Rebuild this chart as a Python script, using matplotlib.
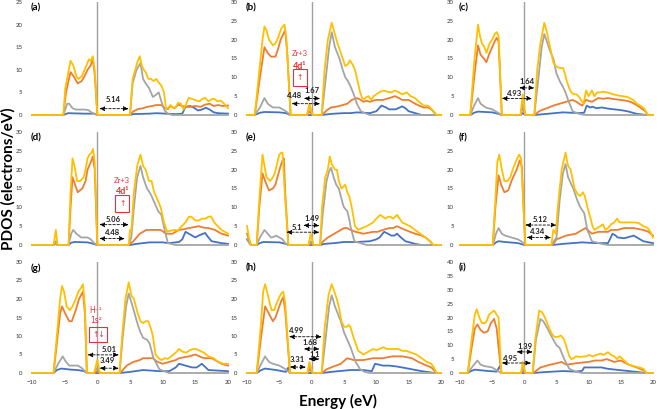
import matplotlib
matplotlib.use('Agg')
import matplotlib.pyplot as plt

plt.rcParams['font.family'] = ['Lato', 'DejaVu Sans']

# === PDOS curves, (energy eV, states/eV) ===
a_total = [(-10,0),(-5.2,0),(-4.9,6),(-4.1,12),(-3.7,11),(-3.2,8.5),(-2.9,8),(-2.4,8.5),(-1.8,10.5),(-1.3,12.3),(-1.0,12),(-0.7,13),(-0.4,10),(0,0),(5.0,0),(5.4,8),(5.8,10),(6.2,12),(6.5,13),(6.8,11),(7.1,10),(7.4,9.5),(7.8,8),(8.2,8),(8.6,7.5),(9.0,8),(9.5,7),(9.8,6.5),(10.2,5),(10.5,1.5),(10.8,1.5),(11.2,2.2),(11.6,1.5),(12.0,1.8),(12.4,2.7),(12.8,2.5),(13.2,1.2),(13.6,2.5),(14.0,3.8),(14.6,3.5),(15.2,3.2),(15.6,3.0),(16.0,3.5),(16.5,3.8),(17.0,3.0),(17.5,3.5),(17.9,3.6),(18.4,3.0),(18.9,3.2),(19.4,2.5),(20,1.5)]
a_gray = [(-10,0),(-5.2,0),(-4.6,2.5),(-4.3,2.5),(-3.8,1.5),(-3.3,1.2),(-2,1.2),(-1.4,1.1),(-0.8,0.5),(0,0),(5.0,0),(5.4,7),(6.0,10),(6.6,11.5),(7.0,8),(7.4,7),(7.9,6),(8.5,4),(9.0,4.5),(9.4,5),(9.8,3),(10.3,1),(10.8,0.3),(11.5,0),(20,0)]
a_orange = [(-10,0),(-5.2,0),(-4.8,5),(-4.1,9.5),(-3.6,8.5),(-3.0,7),(-2.4,7.5),(-2.0,8.5),(-1.5,10),(-1.0,11),(-0.7,12.5),(-0.4,9),(0,0),(5.0,0),(5.5,0.8),(6.2,1.3),(7.0,1.5),(7.6,1.8),(8.4,2.0),(9.0,2.2),(9.8,2.2),(10.3,1.5),(10.8,1.3),(11.2,2.0),(11.8,1.5),(12.4,2.3),(13.0,2.0),(13.6,1.8),(14.2,1.8),(15,2.0),(15.8,1.8),(16.5,2.3),(17.2,2.5),(17.8,2.0),(18.5,2.2),(19.2,2.0),(20,2.1)]
a_blue = [(-10,0),(-5.2,0),(-4.5,0.4),(-2,0.3),(-0.5,0.3),(0,0),(5,0),(5.5,0.2),(8,0.3),(9,0.4),(10.5,0.3),(12,0.2),(13.0,0.3),(13.5,1.8),(14.2,2.0),(14.8,1.6),(15.4,1.0),(16.0,1.2),(16.6,1.6),(17.2,1.2),(17.8,0.6),(18.5,0.4),(20,0.3)]

b_total = [(-10,0),(-8.8,0),(-8.2,10),(-7.6,20),(-7.3,23.5),(-7.0,22.5),(-6.6,20),(-6.0,18.5),(-5.6,19),(-5.2,20.5),(-4.7,23),(-4.2,24),(-3.9,20),(-3.25,0),(-0.7,0),(-0.35,3),(0.15,0),(1.55,0),(2.0,12),(2.5,20),(3.1,24.5),(3.5,22),(4.0,19),(4.4,17),(4.8,15),(5.2,13),(5.6,13.5),(5.9,14.5),(6.3,13.5),(6.7,12),(7.1,9),(7.5,6),(7.8,4.5),(8.1,4.2),(8.5,4.8),(8.8,5),(9.2,4),(9.6,5),(10,5.5),(10.6,6.2),(11.1,6.5),(11.7,6.2),(12.3,6),(12.9,6.5),(13.5,6),(14.0,5.5),(14.7,6.0),(15.3,5),(16,4.5),(16.6,3.5),(17.3,2.5),(18,2.5),(18.6,1.5),(19.3,0),(20,0)]
b_gray = [(-10,0),(-8.8,0),(-8.0,2),(-7.3,4.5),(-6.8,3),(-6.0,2),(-5.0,2),(-4.5,1.5),(-4.0,1),(-3.3,0),(-0.7,0),(-0.35,2.5),(0.15,0),(1.55,0),(2.2,10),(2.7,18),(3.1,22),(3.6,18),(4.3,15),(4.8,12),(5.2,10),(5.6,9),(5.9,8),(6.4,6),(7.0,3),(7.6,1),(8.2,0.5),(9,0),(20,0)]
b_orange = [(-10,0),(-8.8,0),(-8.0,10),(-7.3,18),(-6.8,16.5),(-6.3,15.5),(-5.6,15.5),(-5.2,17.5),(-4.8,20),(-4.1,22.5),(-3.8,17),(-3.25,0),(-0.7,0),(-0.35,1),(0.15,0),(1.6,0),(2.3,1.2),(3,2),(3.8,2.2),(4.5,2.5),(5.5,3),(6.2,4),(7,4.5),(7.6,4),(8.0,3.5),(8.5,3.8),(9,3.5),(9.5,3.8),(10,4),(11,4),(12,4.5),(12.9,5),(13.5,4.5),(14,4),(15,4),(15.5,3.5),(16,3),(16.6,2.5),(17.3,2),(18,2),(18.5,1.5),(19.3,0),(20,0)]
b_blue = [(-10,0),(-8.8,0),(-8.0,0.6),(-7.3,0.8),(-5,0.7),(-4,0.5),(-3.3,0),(1.6,0),(3,0.3),(5,0.5),(6,0.5),(7,0.7),(8,0.6),(9,0.5),(10,1.0),(10.8,2.5),(11.5,2),(12,1.5),(13,1.5),(14,2.3),(14.5,1.8),(15,1),(16,0.5),(17,0),(20,0)]

c_total = [(-10,0),(-8.4,0),(-7.8,14),(-7.2,24),(-6.9,21),(-6.6,19),(-6.2,18),(-5.9,16.5),(-5.4,19),(-5.0,20),(-4.6,21.5),(-4.3,22),(-4.0,21),(-3.5,0),(-0.6,0),(-0.25,5.5),(0.15,0),(1.55,0),(2.0,12),(2.5,19),(3.1,24.5),(3.5,22),(4.0,18),(4.5,14),(4.9,13),(5.4,12.5),(6.0,12.5),(6.3,11),(6.6,9),(7.0,7),(7.3,6),(7.7,5.5),(8.1,5.5),(8.5,4.8),(8.8,4),(9.2,3),(9.6,6.5),(10.0,5),(10.5,6.5),(10.9,5),(11.3,6),(11.7,6),(12.3,6.2),(12.8,6),(13.3,5.8),(13.8,5.5),(14.5,5.2),(15.3,5),(16.0,4.8),(16.9,4),(17.5,3),(18.0,2.5),(18.6,1.8),(19.2,0),(20,0)]
c_gray = [(-10,0),(-8.4,0),(-7.8,2.5),(-7.2,4.5),(-6.8,3),(-6.0,2),(-5.0,1.5),(-4.5,1),(-4.0,0.5),(-3.5,0),(-0.6,0),(-0.25,3),(0.15,0),(1.55,0),(2.2,10),(2.7,18),(3.1,21.5),(3.6,19),(4.0,17),(4.5,15),(5.0,11),(5.5,9),(6.0,7.5),(6.4,6),(6.8,4),(7.5,1),(8.5,0.3),(9.5,0),(20,0)]
c_orange = [(-10,0),(-8.4,0),(-7.8,10),(-7.2,18.5),(-6.8,16),(-6.3,15),(-5.9,14),(-5.5,16),(-5.0,18),(-4.6,19.5),(-4.3,20.5),(-4.0,19.5),(-3.5,0),(-0.6,0),(-0.25,2),(0.15,0),(1.6,0),(2.3,1),(3,1.5),(3.8,2),(4.5,2.5),(5.5,3),(6.5,3.5),(7.5,4),(8.1,3.5),(8.5,3),(9.0,2.5),(9.6,4),(10.5,3.5),(11.5,4.5),(12.2,4.3),(13,4.5),(14,4.2),(15,4),(15.8,3.8),(16.5,3.5),(17.3,2.8),(18,2),(18.8,1),(19.2,0),(20,0)]
c_blue = [(-10,0),(-8.4,0),(-7.8,0.6),(-7.2,0.9),(-5,0.7),(-4,0.3),(-3.5,0),(-0.6,0),(-0.25,0.5),(0.15,0),(1.6,0),(3.5,0.3),(6,0.7),(8.5,0.5),(9.3,0.6),(9.7,2.5),(10.2,2),(10.6,2.2),(11.2,1.8),(12,2),(13,1.7),(14,1.5),(15,1.3),(16,1),(17.5,0.3),(19,0),(20,0)]

d_total = [(-10,0),(-6.7,0),(-6.35,4),(-6.1,0),(-4.4,0),(-4.1,14),(-3.8,23),(-3.5,21),(-3.1,17),(-2.6,17),(-2.1,18),(-1.8,20),(-1.5,23),(-1.2,24),(-0.9,24.5),(-0.65,25.5),(-0.4,22),(0,0),(4.8,0),(5.0,4),(5.2,3.5),(5.6,14),(6.1,21),(6.6,24),(7.0,21),(7.4,20),(7.9,17),(8.3,17),(8.7,14),(9.1,12.5),(9.7,10),(10.2,6),(10.7,3.5),(11.2,3.8),(11.8,4),(12.3,3.8),(12.9,5),(13.5,6),(14.0,7.5),(14.4,7.5),(15,6.5),(15.5,6.5),(16.0,7),(16.6,7),(17.0,7.5),(17.4,7.6),(17.9,6),(18.4,5),(19.0,4),(19.5,3.5),(20,3)]
d_gray = [(-10,0),(-6.7,0),(-6.35,1),(-6.1,0),(-4.4,0),(-4.0,3),(-3.7,4),(-3.2,3),(-2.5,2),(-1.5,2),(-1.0,1.5),(-0.5,0.5),(0,0),(4.8,0),(5.2,2),(5.6,10),(6.1,18),(6.6,21),(7.0,18),(7.6,15),(8.0,14),(8.3,13),(8.8,11),(9.3,9),(9.8,8),(10.3,4),(10.8,0.5),(12,0),(20,0)]
d_orange = [(-10,0),(-6.7,0),(-6.35,0.5),(-6.1,0),(-4.4,0),(-4.1,10),(-3.8,18),(-3.4,16),(-3.0,14),(-2.3,15),(-1.8,17),(-1.5,20),(-1.0,22),(-0.7,23.5),(-0.4,20),(0,0),(4.8,0),(5.5,1),(6.0,2),(6.5,3),(7.0,3.5),(7.5,4),(8.5,4),(9.7,4),(10.5,3),(11.5,3),(12.5,4),(13.3,4.2),(14,4.5),(15,4.8),(15.5,5),(16.3,4.6),(17,4.5),(18,4),(19,3),(20,2.5)]
d_blue = [(-10,0),(-6.7,0),(-6.35,0.5),(-6.1,0),(-4.4,0),(-4.0,0.6),(-3.5,0.8),(-1.5,0.7),(-1,0.5),(0,0),(5,0),(6,0.3),(8,0.7),(10,0.7),(11,0.5),(12.5,0.8),(13.0,1.5),(13.5,3.5),(14.0,3),(14.5,2.5),(15.0,2),(15.5,2.5),(16.5,3.2),(17,2),(17.5,1),(19,0.5),(20,0.3)]

e_total = [(-10,5),(-9.7,2),(-9.4,0),(-8.5,0),(-8.1,12),(-7.6,24),(-7.3,21),(-7.0,18),(-6.4,17),(-6.0,18),(-5.7,19),(-5.3,22),(-5.0,24),(-4.7,24.5),(-4.5,24.5),(-4.2,15),(-3.6,0),(-0.5,0),(-0.15,3),(0.3,0),(1.3,0),(1.6,10),(2.1,18),(2.5,20),(2.8,23.5),(3.1,21.5),(3.6,20),(3.9,20),(4.2,17),(4.6,15),(4.9,15.5),(5.2,16),(5.5,14),(5.8,13),(6.2,10),(6.7,5),(7.2,4),(7.8,4.5),(8.5,5),(9.0,5.5),(9.5,6),(10.0,7),(10.6,8),(11.0,7.5),(11.4,7),(11.8,7.5),(12.2,7.5),(12.6,7),(13.2,8),(13.6,7),(14.0,6),(14.6,5.5),(15.2,5),(16.0,4),(16.8,3),(17.6,2),(18.3,1),(18.8,0),(20,0)]
e_gray = [(-10,1.5),(-9.4,0),(-8.5,0),(-8.0,2),(-7.3,4),(-6.8,3),(-6.3,2),(-5.8,2.2),(-5.5,2.5),(-5.0,2),(-4.5,1.5),(-4.1,0.5),(-3.6,0),(-0.5,0),(-0.15,1),(0.3,0),(1.3,0),(1.7,8),(2.3,17),(2.7,19.5),(3.0,20.5),(3.4,18),(3.8,16),(4.2,15),(4.5,13),(4.8,11),(5.0,10),(5.5,9),(5.8,7),(6.0,5),(6.6,1),(7.5,0.5),(8.5,0),(20,0)]
e_orange = [(-10,3),(-9.4,0),(-8.5,0),(-8.1,10),(-7.6,19),(-7.2,17),(-6.6,14.5),(-6.0,15),(-5.6,16),(-5.3,18),(-4.8,21),(-4.5,22.5),(-4.3,23),(-4.1,14),(-3.6,0),(-0.5,0),(-0.15,0.5),(0.3,0),(1.3,0),(1.8,1),(2.5,2),(3.5,3),(4.5,4),(5.0,4.5),(5.5,4.5),(6.0,4),(6.8,3.5),(8,3),(9.5,3.5),(10.2,3.5),(11,4),(12,4.5),(12.6,4.5),(13.2,5),(13.8,4.5),(14.5,4),(15.2,3.5),(16,3),(17,2.5),(17.6,2),(18.3,1),(18.8,0),(20,0)]
e_blue = [(-10,1.5),(-9.4,0),(-8.5,0),(-8.0,0.5),(-7.5,0.8),(-5,0.7),(-4,0.3),(-3.6,0),(1.3,0),(2,0.3),(3.5,0.5),(5,0.8),(7,0.8),(9,1),(10,1.5),(10.5,2),(11.2,3.5),(11.8,3),(12.3,2.5),(12.8,2.5),(13.2,3),(13.8,2),(14.5,1),(16,0.3),(17,0),(20,0)]

f_total = [(-10,0),(-4.9,0),(-4.5,12),(-4.2,22),(-3.9,24),(-3.5,20),(-3.1,17),(-2.6,17),(-2.2,18),(-1.6,21),(-1.1,23),(-0.8,24),(-0.5,23),(0.15,0),(4.2,0),(4.5,4),(4.9,3),(5.2,10),(5.8,20),(6.4,24.5),(6.8,21),(7.2,20),(7.8,15),(8.3,13.5),(8.7,13),(9.1,14),(9.4,13),(9.8,10),(10.3,7),(10.6,5),(10.9,4),(11.3,4.5),(11.8,5),(12.2,5.5),(12.6,4),(13.0,4.5),(13.5,5.5),(14.0,6),(14.4,7),(14.8,6),(15.5,6),(16.5,6),(17.2,6),(17.8,5.8),(18.5,5),(19.2,4.5),(19.6,3.5),(20,2)]
f_gray = [(-10,0),(-4.9,0),(-4.4,3),(-4.0,4.5),(-3.5,3),(-3.0,2.5),(-2,2),(-1,1.5),(-0.5,1),(0.15,0),(4.2,0),(4.6,1),(5.0,2),(5.5,12),(6.0,19),(6.4,21.5),(6.8,18),(7.6,15),(8.2,12),(8.7,10),(9.3,8.5),(9.8,4),(10.5,1),(12,0.3),(13,0),(20,0)]
f_orange = [(-10,0),(-4.9,0),(-4.5,10),(-4.0,18.5),(-3.6,16),(-3.1,14),(-2.5,14.5),(-2.0,17),(-1.2,20),(-0.7,22.5),(-0.4,21),(0.15,0),(4.4,0),(5.0,1.5),(6.5,2.5),(8,3),(9,4),(9.5,4.5),(10.5,3),(11.5,3.5),(12,3.5),(13,3.5),(13.5,4),(14.5,4),(15.5,4.5),(17,4.5),(18.5,4),(19.3,3.5),(20,2.5)]
f_blue = [(-10,0),(-4.9,0),(-4.4,0.7),(-4.0,1),(-3,0.8),(-1,0.5),(0,0),(4.4,0),(6,0.3),(9,0.7),(11,0.5),(13,0.5),(13.3,1.5),(13.7,3),(14.2,2.5),(14.5,2),(15.5,1.8),(16,2),(17,2.5),(17.5,2),(18.5,1),(20,0.5)]

g_total = [(-10,0),(-6.7,0),(-6.2,10),(-5.7,20),(-5.4,23.5),(-5.1,22),(-4.7,18),(-4.2,17),(-3.8,18),(-3.3,20),(-2.9,22),(-2.5,23),(-2.2,24),(-1.9,18),(-1.6,0),(-0.5,0),(0,3.5),(0.4,0),(3.4,0),(3.8,10),(4.3,20),(4.8,24.5),(5.2,21),(5.6,20),(6.2,16),(6.6,14),(7.0,13.5),(7.4,14),(7.8,14),(8.2,12),(8.5,10),(8.9,5),(9.4,4),(9.8,3.5),(10.3,4),(10.8,3.8),(11.3,4.5),(12.0,5.5),(12.5,6.5),(13.0,5.8),(13.6,5.5),(14.2,6.2),(14.7,6.5),(15.1,6.5),(15.7,6),(16.3,5.5),(17.0,4.5),(17.8,4),(18.5,3),(19.3,2.5),(20,2.5)]
g_gray = [(-10,0),(-6.7,0),(-6.0,2.5),(-5.3,4.5),(-4.8,3),(-4.3,2),(-3.0,2),(-2.5,1.5),(-2.2,1),(-1.6,0),(-0.5,0),(0,1.5),(0.4,0),(3.4,0),(3.9,10),(4.4,18),(4.8,21.5),(5.4,18),(6.2,13),(6.6,11),(7.0,9.5),(7.6,9),(8.0,8),(8.6,4),(9.5,1),(10.5,0.3),(11,0),(20,0)]
g_orange = [(-10,0),(-6.7,0),(-6.2,8),(-5.7,16),(-5.4,18),(-4.9,16),(-4.3,14),(-3.9,14),(-3.3,17),(-2.8,20),(-2.2,22),(-1.9,16),(-1.6,0),(-0.5,0),(0,0.5),(0.4,0),(3.5,0),(4.5,2),(5.5,3),(6.5,3.5),(7,4),(8.5,4),(9.2,3),(10,2.5),(11,3),(12,3.5),(12.5,4),(14,4.5),(15,5),(16.0,4.2),(16.5,4),(17.5,4),(19,2.5),(20,2)]
g_blue = [(-10,0),(-6.7,0),(-6.2,0.8),(-5.5,1.2),(-4,0.9),(-3,0.8),(-2,0.5),(-1.6,0),(3.5,0),(5,0.3),(7,0.8),(9.5,0.5),(11,0.5),(12,1.5),(12.5,2.5),(13.5,2),(14.5,1.5),(15.2,1.5),(16,2.5),(17,0.8),(20,0.5)]

h_total = [(-10,0),(-8.5,0),(-7.9,12),(-7.5,22),(-7.2,24),(-6.9,22),(-6.5,19),(-6.2,17),(-5.8,17),(-5.4,19),(-5.0,20.5),(-4.7,21.5),(-4.4,22),(-4.1,19),(-3.35,0),(-0.65,0),(-0.35,3),(0.15,0),(1.55,0),(2.0,12),(2.6,21),(3.1,24),(3.5,22),(3.9,20),(4.3,17),(4.6,14),(5.0,12.5),(5.4,12.5),(5.7,13),(6.0,12.5),(6.4,10),(6.8,8),(7.2,6),(7.6,5.5),(8.0,5),(8.5,5.5),(9.0,6),(9.5,6.5),(10.0,6.2),(10.5,6.5),(11.1,7),(11.6,6.5),(12.2,6.5),(12.8,6.5),(13.4,6.5),(14,6),(14.6,6),(15.4,5.5),(16.2,5),(17.0,4),(17.8,3),(18.5,2.5),(18.9,1.5),(19.3,0),(20,0)]
h_gray = [(-10,0),(-8.5,0),(-7.8,2.5),(-7.2,4.5),(-6.6,3),(-6.0,2.5),(-5.0,2),(-4.5,1.5),(-4.0,1),(-3.35,0),(-0.65,0),(-0.35,2),(0.15,0),(1.55,0),(2.2,10),(2.7,18),(3.1,21),(3.6,18),(4.5,14),(5.0,11),(5.5,9),(6.0,7),(6.8,3),(7.5,1),(8.2,0.3),(9,0),(20,0)]
h_orange = [(-10,0),(-8.5,0),(-7.8,10),(-7.2,18),(-6.6,16),(-6.0,14),(-5.6,15),(-5.2,17),(-4.7,19.5),(-4.4,20.5),(-4.1,17),(-3.35,0),(-0.65,0),(-0.35,1),(0.15,0),(1.6,0),(2.3,1),(3,1.5),(4.5,2.5),(5.5,4),(6.5,3.5),(8,3.5),(9.5,4),(11,4),(12.5,4.5),(14,4.5),(15.5,4),(16.5,3),(17.8,2),(18.5,1.5),(19.3,0),(20,0)]
h_blue = [(-10,0),(-8.5,0),(-7.8,0.8),(-7.2,1.2),(-5.5,0.8),(-4,0.3),(-3.6,1.5),(-3.35,0),(1.6,0),(3,0.3),(6,0.8),(8,0.8),(9.3,0.5),(9.8,2.5),(11,2),(12,2),(13,1.8),(14,1.5),(15.5,1),(17,0.5),(19,0),(20,0)]

i_total = [(-10,0),(-8.8,0),(-8.2,12),(-7.7,21),(-7.4,23),(-7.0,20),(-6.6,18),(-6.1,18),(-5.8,19),(-5.5,21),(-5.0,22),(-4.7,22.5),(-4.3,21),(-4.0,20),(-3.6,0),(-0.5,0),(-0.25,4),(0.15,0),(1.3,0),(1.7,12),(2.3,22.5),(2.7,22),(3.1,20.5),(3.9,16),(4.3,14),(4.7,13),(5.2,13),(5.7,13.5),(6.2,12),(6.6,9),(7.0,6),(7.3,5),(7.8,5.5),(8.0,6),(8.7,5.8),(9.6,6),(10.1,6.5),(10.6,6),(11.2,6.5),(11.9,7),(12.3,6.5),(13.0,7.5),(13.5,6.5),(14.0,6),(14.4,5),(14.8,6),(15.3,5),(16.2,3),(17.0,2.5),(17.9,2),(18.5,1.5),(19,0),(20,0)]
i_gray = [(-10,0),(-8.8,0),(-8.0,2.5),(-7.3,4.5),(-6.8,3),(-6.2,2.5),(-5.0,2),(-4.3,1),(-3.6,0),(-0.5,0),(-0.25,2),(0.15,0),(1.3,0),(1.8,12),(2.5,19.5),(3.0,18.5),(3.6,16),(4.5,12),(5.0,10),(5.5,9),(6.2,5),(7.0,1.5),(8,0.5),(9,0),(20,0)]
i_orange = [(-10,0),(-8.8,0),(-8.2,9),(-7.7,16),(-7.3,17.5),(-6.8,15.5),(-6.3,14.5),(-5.7,15),(-5.2,18),(-4.7,19.5),(-4.3,16),(-3.6,0),(-0.5,0),(-0.25,1),(0.15,0),(1.4,0),(2.5,2),(4,3),(5,3.5),(5.8,4),(6.5,3),(8,3.5),(10,4),(11,4.5),(12,4.5),(12.8,5),(14,4),(15,4.5),(16.2,3),(17.5,2),(18.5,1),(19,0),(20,0)]
i_blue = [(-10,0),(-8.8,0),(-8.2,0.8),(-7.7,1.2),(-6,0.8),(-4.3,0.5),(-3.8,2.5),(-3.5,0),(1.4,0),(3,0.3),(6,0.7),(8,0.5),(9.0,0.8),(9.3,2),(10.5,2),(12,2),(13,1.5),(15,1),(17,0.5),(19,0),(20,0)]

panel_names = ['(a)', '(b)', '(c)', '(d)', '(e)', '(f)', '(g)', '(h)', '(i)']
y_max = [25, 30, 30, 30, 30, 30, 30, 30, 40]
x_ticks = [-10, -5, 0, 5, 10, 15, 20]

# band-gap labels (eV) and the arrows under them
gap_labels = [['5.14'], ['1.67', '4.48'], ['1.64', '4.93'],
              ['5.06', '4.48'], ['1.49', '5.1'], ['5.12', '4.34'],
              ['5.01', '3.49'], ['4.99', '1.68', '1.1', '3.31'], ['1.39', '4.95']]

curves = [
    (a_blue, a_orange, a_gray, a_total), (b_blue, b_orange, b_gray, b_total),
    (c_blue, c_orange, c_gray, c_total), (d_blue, d_orange, d_gray, d_total),
    (e_blue, e_orange, e_gray, e_total), (f_blue, f_orange, f_gray, f_total),
    (g_blue, g_orange, g_gray, g_total), (h_blue, h_orange, h_gray, h_total),
    (i_blue, i_orange, i_gray, i_total),
]
colors = ['#4472C4', '#ED7D31', '#A5A5A5', '#FFC000']

# arrow (x0, x1, y) and text (x, y) per label
arrow_pos = [
    [(0.3, 4.8, 1.4, 2.5, 3.4)],
    [(-1.2, 1.3, 4.4, 0.05, 6.5), (-3.1, 1.3, 3.0, -2.6, 5.3)],
    [(-0.8, 1.55, 7.2, 0.5, 9.0), (-3.5, 1.2, 4.4, -1.55, 5.7)],
    [(0.3, 4.8, 5.4, 2.5, 6.9), (0.3, 4.2, 1.7, 2.3, 3.2)],
    [(-1.3, 1.2, 5.2, 0.0, 7.1), (-3.9, 1.2, 3.4, -2.3, 4.7)],
    [(0.15, 5.0, 5.3, 2.4, 6.9), (0.35, 4.15, 2.0, 2.1, 3.5)],
    [(-1.5, 3.3, 4.9, 1.75, 6.4), (0.35, 3.3, 1.3, 1.5, 3.4)],
    [(-3.5, 1.55, 9.8, -2.3, 11.6), (-1.2, 1.2, 6.5, -0.25, 8.2),
     (-0.5, 1.2, 3.8, 0.5, 4.9), (-3.35, -0.9, 1.6, -2.3, 3.6)],
    [(-1.2, 1.3, 7.6, 0.15, 9.5), (-3.5, 1.05, 3.6, -2.1, 5.1)],
]

red = '#E8303A'
W, H = 658, 409
fig = plt.figure(figsize=(W / 100, H / 100), dpi=100)

col_x = [(32, 228), (247, 441), (460, 653)]
row_y = [(2, 115), (132, 245), (262, 373)]
col_pad = [7, 7, 4.5]

for k in range(9):
    r, c = divmod(k, 3)
    x0, x1 = col_x[c]
    y0, y1 = row_y[r]
    ax = fig.add_axes([x0 / W, 1 - y1 / H, (x1 - x0) / W, (y1 - y0) / H])
    ax.axvline(0, color='#A0A0A0', lw=1.0, zorder=1)
    for pts, col in zip(curves[k], colors):
        ax.plot([p[0] for p in pts], [p[1] for p in pts], color=col, lw=1.3,
                clip_on=False, zorder=2, solid_joinstyle='round')
    ax.set_xlim(-10, 20)
    ax.set_ylim(0, y_max[k])
    ax.set_yticks(range(0, y_max[k] + 1, 5))
    for s in ax.spines.values():
        s.set_visible(False)
    ax.tick_params(length=0, labelsize=4.3, pad=col_pad[c], colors='#333333')
    if r == 2:
        ax.set_xticks(x_ticks)
        ax.tick_params(axis='x', pad=5)
    else:
        ax.set_xticks([])
    ax.text(-0.005, 0.985, panel_names[k], transform=ax.transAxes, ha='left',
            va='top', fontsize=7, weight='bold')
    for lab, (ax0, ax1, ay, tx, ty) in zip(gap_labels[k], arrow_pos[k]):
        ax.annotate('', xy=(ax1, ay), xytext=(ax0, ay),
                    arrowprops=dict(arrowstyle='<|-|>,head_length=0.3,head_width=0.13',
                                    linestyle=(0, (3, 2)), lw=0.6, color='black',
                                    shrinkA=0, shrinkB=0))
        ax.text(tx, ty, lab, ha='center', va='center', fontsize=5.5, weight='bold',
                color='#222222')
    if k in (1, 3):
        ex = -1.8 if k == 1 else 3.8
        ys = (16.3, 12.9, 9.9) if k == 1 else (17.0, 14.2, 11.1)
        ax.text(ex, ys[0], 'Zr+3', ha='center', va='center', fontsize=5.5, color=red)
        ax.text(ex, ys[1], '4d¹', ha='center', va='center', fontsize=6.5,
                weight='bold', color=red)
        ax.text(ex, ys[2], '↑', ha='center', va='center', fontsize=5.5, color=red,
                family=['DejaVu Sans'],
                bbox=dict(boxstyle='square,pad=0.5', fc='none', ec=red, lw=0.8))
    if k == 6:
        ax.text(-0.2, 16.8, 'H⁻¹', ha='center', va='center', fontsize=5.5, color=red,
                family=['DejaVu Sans'])
        ax.text(-0.2, 14.1, '1s²', ha='center', va='center', fontsize=5.5, color=red,
                family=['DejaVu Sans'])
        ax.text(0.15, 10.4, '↑↓', ha='center', va='center', fontsize=5.5, color=red,
                family=['DejaVu Sans'],
                bbox=dict(boxstyle='square,pad=0.35', fc='none', ec=red, lw=0.8))

fig.text(8 / W, 1 - 179 / H, 'PDOS (electrons/eV)', rotation=90, ha='center',
         va='center', fontsize=11, weight='bold')
fig.text(338 / W, 1 - 401 / H, 'Energy (eV)', ha='center', va='center',
         fontsize=11, weight='bold')

fig.savefig('out.png', dpi=100)
